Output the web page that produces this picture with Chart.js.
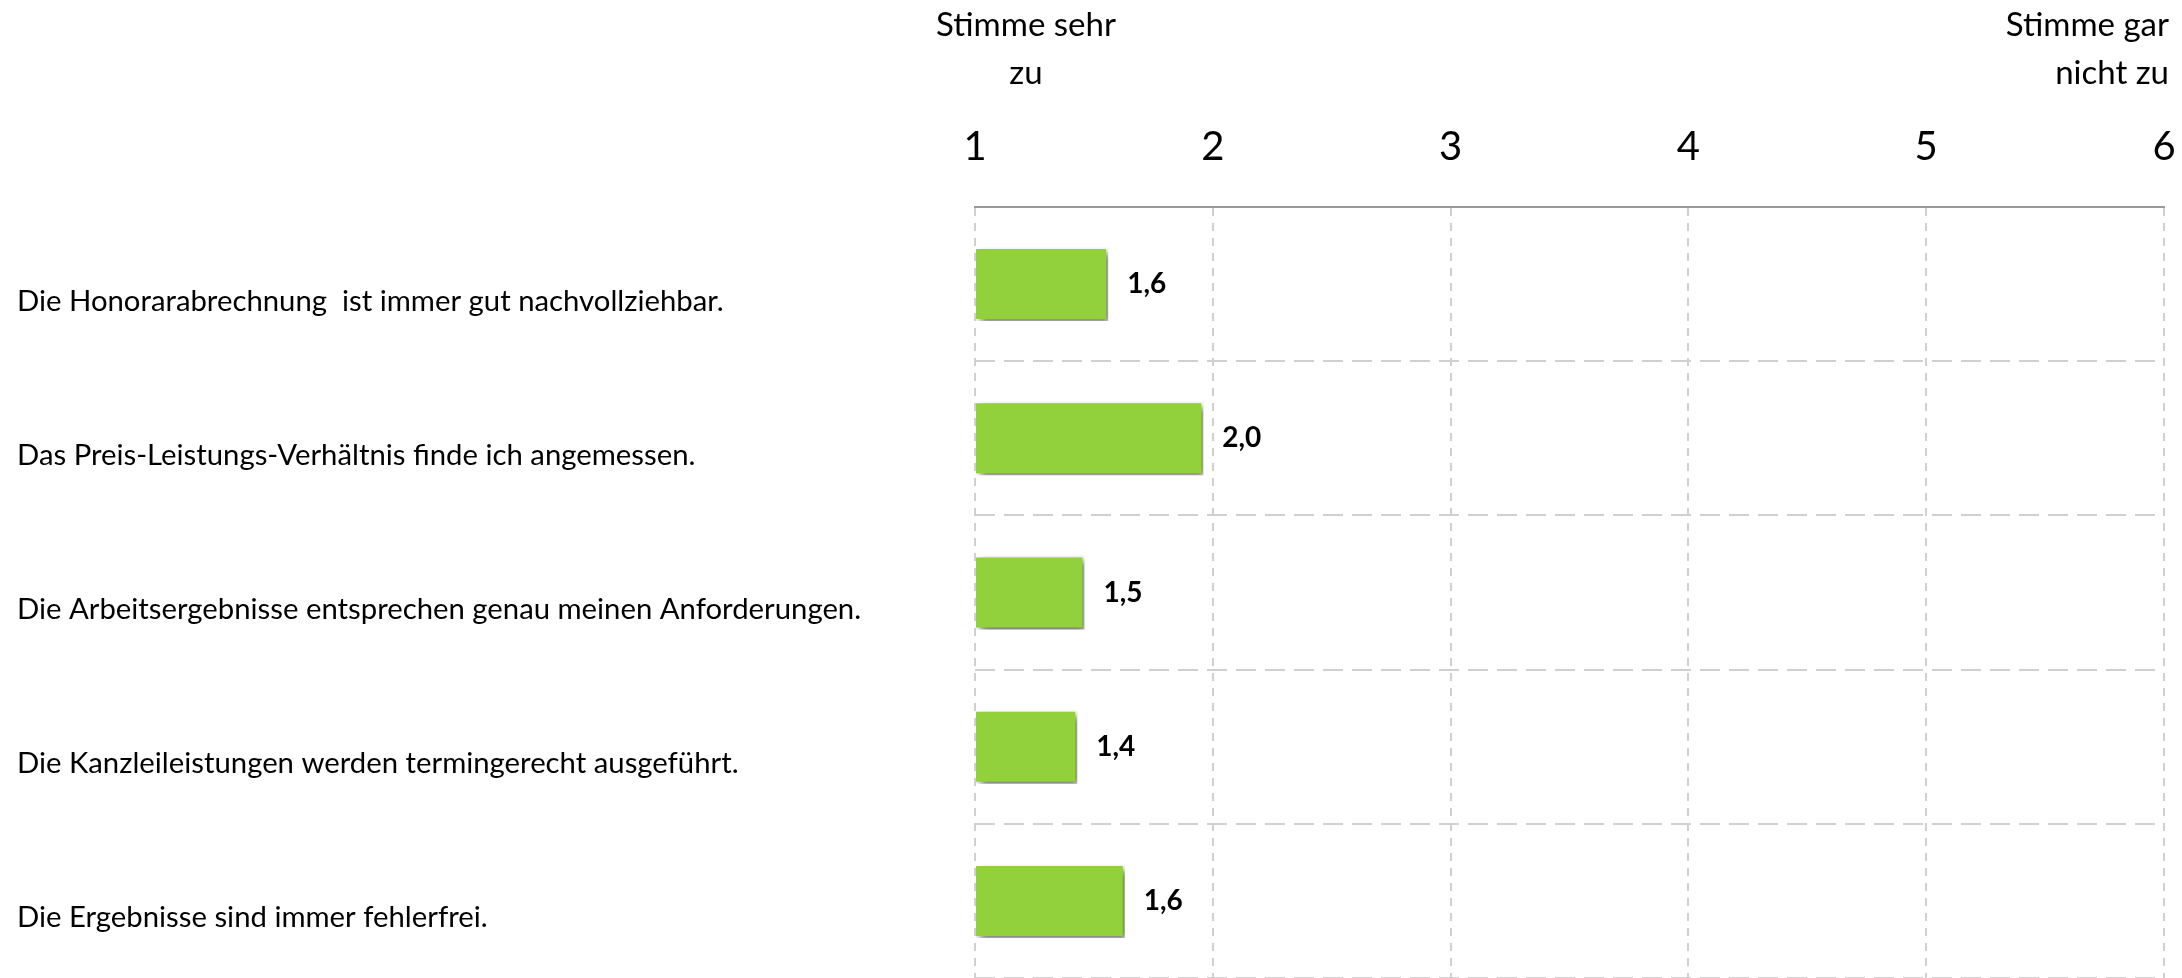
<!DOCTYPE html>
<html>
<head>
<meta charset="utf-8">
<script src="https://cdn.jsdelivr.net/npm/chart.js@4.4.1/dist/chart.umd.min.js"></script>
<style>
  html, body { margin: 0; padding: 0; background: #fff; overflow: hidden; }
  #wrap { width: 2182px; height: 978px; }
</style>
</head>
<body>
<div id="wrap"><canvas id="grafik"></canvas></div>
<script>
// Aussagen (Kategorien) und Mittelwerte
const aussagen = [
    'Die Honorarabrechnung  ist immer gut nachvollziehbar.',
    'Das Preis-Leistungs-Verhältnis finde ich angemessen.',
    'Die Arbeitsergebnisse entsprechen genau meinen Anforderungen.',
    'Die Kanzleileistungen werden termingerecht ausgeführt.',
    'Die Ergebnisse sind immer fehlerfrei.'
];
const mittelwerte = [1.56, 1.96, 1.46, 1.43, 1.63];
const skalaMin = 1;
const skalaMax = 6;
const kopfLinks = ['Stimme sehr', 'zu'];
const kopfRechts = ['Stimme gar', 'nicht zu'];

const schrift = 'Lato, "Open Sans", sans-serif';

// Schatten unter den Balken
const schattenPlugin = {
    id: 'schatten',
    beforeDatasetsDraw: function(chart) {
        const ctx = chart.ctx;
        ctx.save();
        ctx.shadowColor = 'rgba(0,0,0,0.55)';
        ctx.shadowBlur = 7;
        ctx.shadowOffsetX = 4;
        ctx.shadowOffsetY = 4;
    },
    afterDatasetsDraw: function(chart) {
        chart.ctx.restore();
    }
};

// Werte neben die Balken schreiben
const wertePlugin = {
    id: 'werte',
    afterDatasetsDraw: function(chart) {
        const ctx = chart.ctx;
        const meta = chart.getDatasetMeta(0);
        ctx.save();
        ctx.font = 'bold 28px ' + schrift;
        ctx.fillStyle = '#000';
        ctx.textAlign = 'left';
        ctx.textBaseline = 'middle';
        meta.data.forEach(function(bar, i) {
            const text = mittelwerte[i].toFixed(1).replace('.', ',');
            ctx.fillText(text, bar.x + 19, bar.y);
        });
        ctx.restore();
    }
};

// Beschriftung der Skalenenden oben
const kopfPlugin = {
    id: 'kopf',
    afterDraw: function(chart) {
        const ctx = chart.ctx;
        const x = chart.scales.x;
        ctx.save();
        ctx.font = '33px ' + schrift;
        ctx.fillStyle = '#000';
        ctx.textBaseline = 'middle';
        ctx.textAlign = 'center';
        kopfLinks.forEach(function(zeile, i) {
            ctx.fillText(zeile, x.getPixelForValue(skalaMin) + 51, 25 + i * 48);
        });
        ctx.textAlign = 'right';
        kopfRechts.forEach(function(zeile, i) {
            ctx.fillText(zeile, x.getPixelForValue(skalaMax) + 5, 25 + i * 48);
        });
        ctx.restore();
    }
};

new Chart(document.getElementById('grafik').getContext('2d'), {
    type: 'bar',
    data: {
        labels: aussagen,
        datasets: [{
            data: mittelwerte,
            base: skalaMin,
            backgroundColor: '#92D13B',
            borderColor: '#ffffff',
            borderWidth: 2,
            categoryPercentage: 1,
            barPercentage: 0.48
        }]
    },
    options: {
        indexAxis: 'y',
        responsive: true,
        maintainAspectRatio: false,
        animation: false,
        layout: { padding: { top: 0, left: 17, right: 18, bottom: 0 } },
        plugins: {
            legend: { display: false },
            tooltip: { enabled: false }
        },
        scales: {
            x: {
                position: 'top',
                min: skalaMin,
                max: skalaMax,
                ticks: {
                    stepSize: 1,
                    padding: 36,
                    color: '#000',
                    font: { family: schrift, size: 40 }
                },
                grid: {
                    color: '#d0d0d0',
                    lineWidth: 2,
                    drawTicks: false
                },
                border: { display: true, color: '#999999', width: 2, dash: [8, 7] },
                afterFit: function(scale) {
                    scale.height = 207;
                    scale.paddingLeft = 0;
                    scale.paddingRight = 0;
                }
            },
            y: {
                ticks: {
                    crossAlign: 'far',
                    color: '#000',
                    font: { family: schrift, size: 29.3, lineHeight: '34px' },
                    callback: function(value, i) { return ['', aussagen[i]]; }
                },
                grid: {
                    offset: true,
                    color: '#d0d0d0',
                    lineWidth: 2,
                    drawTicks: false
                },
                border: { display: false, dash: [20, 9] },
                afterFit: function(scale) {
                    scale.width = 958;
                    scale.paddingTop = 0;
                    scale.paddingBottom = 0;
                }
            }
        }
    },
    plugins: [schattenPlugin, wertePlugin, kopfPlugin]
});
</script>
</body>
</html>
